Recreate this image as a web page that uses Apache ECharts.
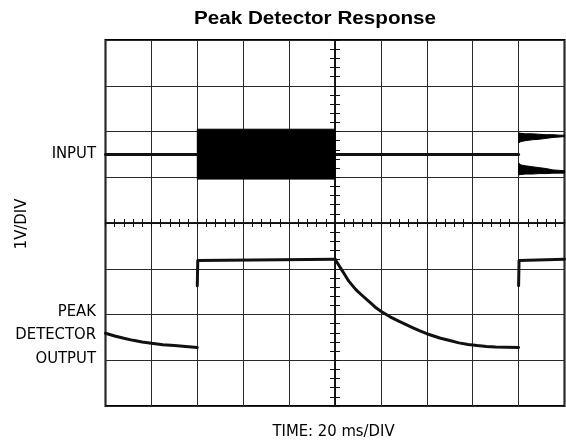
<!DOCTYPE html>
<html><head><meta charset="utf-8">
<script src="https://cdn.jsdelivr.net/npm/echarts@6/dist/echarts.min.js"></script>
<style>html,body{margin:0;padding:0;background:#fff}#c{width:566px;height:448px}</style>
</head><body><div id="c"></div>
<script>
// ---- text ----
const titleText = 'Peak Detector Response';
const xAxisTitle = 'TIME: 20 ms/DIV';
const yAxisTitle = '1V/DIV';
const inputLabel = ['INPUT'];
const outputLabel = ['PEAK', 'DETECTOR', 'OUTPUT'];

// ---- scales: time in ms (20 ms/div, trigger at centre), volts (1 V/div, 0 at centre) ----
const timeRange = [-100, 100];
const voltRange = [-4, 4];
const timeStep = 20;
const voltStep = 1;
const minorDivisions = 5;

// ---- input trace ----
const inputBaselineA = [[-100, 1.5], [-60, 1.5]];
const inputBaselineB = [[0, 1.5], [80, 1.5]];
const burst1Time = [-60, 0];
const burst1Top = [2.05, 2.05];
const burst1Bottom = [0.96, 0.96];
const burst2Time = [80, 81, 83, 86, 89, 92, 95, 98, 100];
const burst2OuterTop = [1.97, 1.96, 1.95, 1.95, 1.94, 1.93, 1.93, 1.92, 1.92];
const burst2InnerTop = [1.75, 1.78, 1.80, 1.82, 1.83, 1.85, 1.87, 1.88, 1.89];
const burst2InnerBottom = [1.31, 1.27, 1.25, 1.23, 1.21, 1.19, 1.16, 1.15, 1.14];
const burst2OuterBottom = [1.05, 1.06, 1.07, 1.07, 1.08, 1.08, 1.09, 1.09, 1.09];

// ---- peak detector output trace ----
const outputTail = [[-100, -2.41], [-96, -2.47], [-92, -2.52], [-88, -2.565], [-84, -2.60], [-80, -2.63],
  [-75, -2.66], [-70, -2.68], [-65, -2.70], [-60, -2.72]];
const outputHold1 = [[-60, -1.37], [-59.8, -0.82], [-59, -0.79], [0, -0.79]];
const outputDecay = [[0, -0.79], [1, -0.87], [2, -0.95], [3, -1.03], [4, -1.11], [5, -1.19], [6, -1.27],
  [7, -1.33], [8, -1.39], [9, -1.45], [10, -1.50], [12, -1.59], [14, -1.68], [16, -1.77], [18, -1.86],
  [20, -1.93], [22, -1.99], [24, -2.05], [26, -2.10], [28, -2.15], [31, -2.22], [34, -2.29], [37, -2.36],
  [40, -2.42], [43, -2.47], [46, -2.52], [50, -2.57], [54, -2.62], [58, -2.655], [62, -2.68], [66, -2.70],
  [70, -2.71], [75, -2.715], [80, -2.72]];
const outputHold2 = [[80, -1.37], [80.2, -0.82], [81, -0.79], [100, -0.79]];

const bands = [
  { t: burst1Time, hi: burst1Top, lo: burst1Bottom },
  { t: burst2Time, hi: burst2OuterTop, lo: burst2InnerTop },
  { t: burst2Time, hi: burst2InnerBottom, lo: burst2OuterBottom }
];

const ink = '#111';
const labelFont = '16.5px "DejaVu Sans Condensed", "DejaVu Sans", sans-serif';
function makeAxis(isX, main, inside) {
  const r = isX ? timeRange : voltRange;
  return {
    type: 'value', min: r[0], max: r[1], interval: isX ? timeStep : voltStep,
    position: isX ? 'bottom' : 'left',
    axisLabel: { show: false },
    axisLine: { show: true, onZero: true, onZeroAxisIndex: 0, lineStyle: { color: ink, width: 1.5 } },
    axisTick: { show: true, inside: inside, length: isX ? 4 : 5, lineStyle: { color: ink, width: 1 } },
    minorTick: { show: true, splitNumber: minorDivisions, length: isX ? 4 : 5, lineStyle: { color: ink, width: 1 } },
    splitLine: { show: main, lineStyle: { color: '#2a2a2a', width: 1 } },
    minorSplitLine: { show: false }
  };
}

function lineSeries(data) {
  return { type: 'line', data: data, showSymbol: false, symbol: 'none', z: 5,
    lineStyle: { color: ink, width: 3, cap: 'round', join: 'round' } };
}
function label(text, x, y) {
  return { type: 'text', x: x, y: y, style: { text: text, font: labelFont, fill: '#000', textAlign: 'right', textVerticalAlign: 'middle' } };
}

const chart = echarts.init(document.getElementById('c'), null, { renderer: 'canvas' });
chart.setOption({
  animation: false,
  backgroundColor: '#fff',
  grid: { left: 105.5, top: 40, width: 459, height: 366, show: true, borderColor: '#000', borderWidth: 2, backgroundColor: '#fff' },
  xAxis: [makeAxis(true, true, false), makeAxis(true, false, true)],
  yAxis: [makeAxis(false, true, false), makeAxis(false, false, true)],
  series: [
    lineSeries(inputBaselineA),
    lineSeries(inputBaselineB),
    {
      type: 'custom', clip: true, z: 6,
      data: bands.map((b, i) => [b.t[0], b.hi[0], i]),
      renderItem: function (params, api) {
        const b = bands[api.value(2)];
        const pts = [];
        b.t.forEach((t, k) => pts.push(api.coord([t, b.hi[k]])));
        for (let k = b.t.length - 1; k >= 0; k--) pts.push(api.coord([b.t[k], b.lo[k]]));
        return { type: 'polygon', shape: { points: pts }, style: { fill: '#000', stroke: '#000', lineWidth: 1 } };
      }
    },
    lineSeries(outputTail),
    lineSeries(outputHold1),
    lineSeries(outputDecay),
    lineSeries(outputHold2)
  ],
  graphic: [
    { type: 'text', x: 315, y: 19, scaleX: 1.18, style: { text: titleText, font: 'bold 17.5px "Liberation Sans", Arial, sans-serif', fill: '#000', textAlign: 'center', textVerticalAlign: 'middle' } },
    label(inputLabel[0], 96, 153.5),
    label(outputLabel[0], 96, 311.5),
    label(outputLabel[1], 96, 335),
    label(outputLabel[2], 96, 358.5),
    { type: 'text', x: 22, y: 224, rotation: Math.PI / 2, style: { text: yAxisTitle, font: labelFont, fill: '#000', textAlign: 'center', textVerticalAlign: 'middle' } },
    { type: 'text', x: 333.5, y: 432, style: { text: xAxisTitle, font: labelFont, fill: '#000', textAlign: 'center', textVerticalAlign: 'middle' } }
  ]
});
</script></body></html>
